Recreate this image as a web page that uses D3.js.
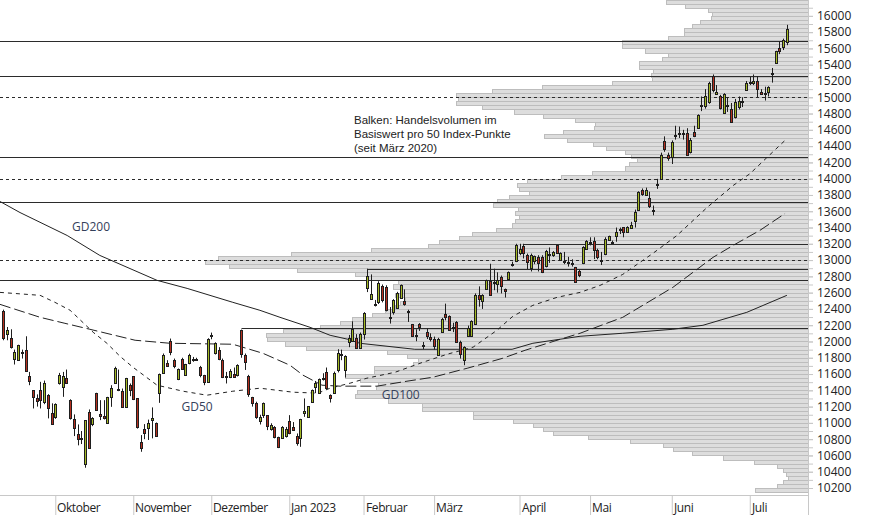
<!DOCTYPE html>
<html><head><meta charset="utf-8">
<script src="https://cdn.jsdelivr.net/npm/d3@7"></script>
<style>
html,body{margin:0;padding:0;background:#fff;}
svg{display:block;}
</style></head><body>
<svg id="chart" width="874" height="515"></svg>
<script>
// ---------- DATA ----------
// daily candles (trading-day index 0 = 13 Sep 2022 ... 211 = 18 Jul 2023)
const opens = [
12370,12097,12043,11790,11770,11870,11892,11573,11402,11300,
11410,11259,11340,11116,11067,11484,11435,11557,11279,11046,
10862,10815,10491,11128,10981,11361,11104,11083,11001,11320,
11496,11420,11394,11197,11463,11573,11300,10768,10925,10940,
11040,11000,11361,11614,11737,12003,11770,11533,11790,11594,
11731,11770,11790,11690,11586,11504,12070,11855,11900,11770,
11560,11565,11600,11586,12146,11831,11573,11320,11246,11026,
11100,11095,10920,10945,10830,10820,10840,11025,10950,10840,
10820,11125,11074,11259,11435,11370,11540,11626,11340,11373,
11647,11830,11647,11994,12012,12048,11925,12097,12661,12527,
12460,12484,12677,12669,12290,12362,12417,12539,12497,12370,
12211,12070,12220,11960,12117,12060,12027,11839,12117,12342,
12309,12170,12240,11994,11770,12070,12070,12220,12566,12500,
12648,12742,12720,12700,12790,12650,12770,12950,12984,13085,
13168,13057,12900,12985,13040,13040,12925,13057,13057,13180,
13005,12985,12980,12968,12914,12864,12969,13140,13220,13235,
13120,13000,13080,13250,13222,13300,13370,13405,13350,13395,
13480,13620,13855,13805,13765,13610,13930,13998,14467,14292,
14262,14530,14555,14555,14562,14324,14578,14623,14900,14897,
14946,15264,15040,15020,14807,14900,14856,14754,14876,14955,
15093,15185,15170,15203,15069,15055,15069,15290,15427,15604,
15612,15681];
const highs = [
12391,12178,12150,11900,11960,11900,12064,11626,11402,11350,
11504,11520,11353,11240,11240,11614,11626,11655,11290,11104,
10981,10900,11034,11165,11070,11370,11279,11279,11320,11463,
11690,11655,11422,11553,11484,11573,11300,10850,10985,11040,
11190,11005,11606,11852,11770,12036,11790,11668,11800,11725,
11850,11810,11800,11700,11590,12040,12109,11990,11930,11790,
11626,11660,11680,11720,12146,11852,11590,11320,11260,11100,
11250,11095,10995,10960,10830,10960,10950,11095,11010,10870,
11050,11300,11205,11410,11515,11545,11610,11680,11350,11630,
11905,11900,11830,12080,12248,12090,12110,12360,12894,12824,
12510,12740,12700,12690,12423,12520,12610,12700,12640,12390,
12215,12150,12225,11994,12160,12100,12060,12045,12290,12465,
12320,12230,12250,12010,11940,12195,12260,12590,12677,12580,
12760,12955,12894,12850,12810,12650,12860,12980,13200,13200,
13200,13080,13080,13055,13060,13060,13125,13155,13110,13185,
13095,13100,13040,13010,12916,12880,13170,13245,13280,13280,
13140,13100,13280,13300,13240,13400,13400,13405,13415,13470,
13620,13845,13880,13890,13840,13670,13998,14320,14520,14320,
14470,14650,14640,14600,14620,14500,14650,14790,15010,15100,
15190,15280,15150,15030,15050,15000,14930,14980,15010,15000,
15200,15250,15280,15260,15100,15130,15135,15360,15571,15690,
15720,15890];
const lows = [
12015,12015,11913,11717,11761,11790,11638,11463,11177,11200,
11177,11230,11055,10981,11050,11470,11320,11480,11040,10838,
10724,10740,10449,10694,10960,11150,11034,11042,10990,11197,
11480,11390,11190,11190,11328,11280,10930,10645,10800,10790,
10810,10830,11246,11606,11688,11831,11671,11525,11660,11585,
11720,11750,11760,11560,11463,11490,12027,11840,11770,11550,
11484,11550,11560,11570,11800,11650,11320,11200,11050,10980,
11060,10911,10905,10810,10690,10810,10820,10860,10900,10720,
10706,11074,11060,11250,11365,11360,11520,11410,11250,11365,
11620,11770,11557,11930,12000,11915,11910,12024,12607,12514,
12430,12460,12480,12370,12220,12330,12400,12530,12440,12240,
12060,12003,12130,11905,12030,12000,11900,11830,12110,12260,
12130,12115,11985,11790,11708,12060,12060,12210,12428,12400,
12640,12570,12630,12600,12590,12540,12760,12920,12975,13060,
13020,12890,12860,12950,12860,12840,12910,12965,13040,13080,
13000,12950,12920,12920,12730,12790,12950,13130,13180,13012,
13010,12940,13060,13240,13200,13225,13320,13280,13345,13390,
13400,13610,13790,13795,13640,13550,13875,13990,14330,14220,
14180,14480,14500,14480,14290,14310,14510,14610,14830,14860,
14920,15060,15030,14850,14800,14820,14690,14740,14850,14880,
15080,15150,15150,15000,15030,14960,15010,15180,15420,15530,
15580,15640];
const closes = [
12043,12137,11933,11871,11954,11859,11638,11512,11320,11270,
11279,11496,11177,10981,11227,11586,11573,11491,11055,10932,
10797,10805,11034,10694,11055,11157,11087,11055,11320,11423,
11675,11402,11190,11553,11402,11291,10946,10694,10870,11000,
11060,10835,11606,11839,11700,11871,11696,11668,11668,11720,
11839,11785,11780,11586,11504,12027,12076,11978,11790,11565,
11570,11638,11565,11710,11852,11749,11353,11246,11074,11074,
11240,10964,10980,10830,10700,10945,10930,10870,10911,10750,
11042,11145,11205,11402,11490,11533,11548,11423,11300,11618,
11860,11845,11819,12048,12150,11925,12097,12355,12800,12579,
12465,12723,12505,12391,12300,12505,12595,12689,12456,12360,
12068,12076,12180,11954,12064,12036,11945,12036,12281,12300,
12137,12180,11994,11843,11933,12170,12250,12575,12526,12575,
12750,12575,12730,12757,12677,12620,12850,12955,13180,13139,
13085,12975,13057,13046,12965,12855,13110,13080,13100,13090,
13090,12980,12972,12960,12730,12812,13160,13235,13222,13120,
13037,12996,13262,13290,13225,13350,13385,13345,13410,13425,
13590,13834,13814,13855,13670,13605,13936,14292,14365,14255,
14446,14537,14562,14560,14296,14480,14529,14782,14905,15011,
15175,15093,15069,14864,15040,14896,14692,14946,14958,14950,
15175,15191,15203,15101,15040,15052,15121,15297,15571,15563,
15706,15837];

// first trading day of each month (index) and its label
const monthStart  = [14, 35, 56, 77, 97, 116, 139, 158, 180, 201];
const monthLabels = ["Oktober","November","Dezember","Jan 2023","Februar","März","April","Mai","Juni","Juli"];

// moving averages: [trading-day index, value]
const gd200 = [[-0.9,13720],[4.5,13584],[17.2,13302],[26,13057],[41.4,12751],[49.5,12652],[61.8,12481],
  [69.1,12383],[74.5,12297],[82.6,12174],[88,12076],[92.8,12027],[96,11978],[110.8,11904],[137,11904],
  [142.6,11978],[155.3,12064],[166.8,12101],[180.3,12150],[188.4,12199],[200.2,12358],[211,12567]];
const gd100 = [[-0.9,12456],[9.9,12297],[16.6,12223],[23.3,12150],[35.5,12015],[44.9,11978],[61.8,11966],
  [69.9,11855],[77.2,11708],[80.7,11586],[85.8,11463],[90.7,11451],[100.6,11451],[108.7,11512],
  [115.7,11561],[124.9,11671],[134.5,11794],[140.5,11892],[149.1,12015],[155.3,12101],[166.8,12297],
  [180.3,12665],[191.1,13033],[196.5,13180],[203.7,13364],[210.5,13572]];
const gd50 = [[-0.9,12603],[9.9,12567],[13.9,12481],[18,12383],[24.2,12113],[27.9,11978],[31.4,11819],
  [34.9,11684],[41.4,11463],[48.4,11389],[54.8,11340],[61.8,11389],[69.1,11426],[78,11377],[84.7,11365],
  [88,11426],[93.4,11488],[97.9,11549],[105.5,11622],[113,11745],[119.5,11843],[126.5,11930],[132.9,12137],
  [137.2,12309],[142.6,12444],[149.1,12542],[155.3,12603],[160.7,12689],[166.8,12824],[174.9,13082],
  [181.4,13302],[189.5,13646],[196.5,13915],[201.1,14063],[205.6,14259],[211,14492]];
const maNames = ["GD200","GD100","GD50"];

// horizontal marker lines: level and first day (null = whole width)
const hLevels = [15695, 15262, 15000, 14270, 14000, 13717, 13200, 13000, 12885, 12750, 12160];
const hFrom   = [null, null, null, null, null, null, 140, null, 98, null, 64];

// volume profile: trading volume per 50 index points, starting at 10150
const profileStart = 10150, profileStep = 50;
const profileVolume = [
 53,31,25,20,22,25,31,54,85,116,
 135,145,178,220,255,265,275,295,335,335,
 386,386,420,453,451,432,430,448,463,434,
 434,395,390,401,421,502,523,541,542,525,
 488,468,456,436,423,413,408,403,413,408,
 415,410,441,453,511,579,603,590,517,437,
 380,369,349,336,312,296,293,289,293,290,
 315,311,299,279,289,291,281,247,216,183,
 179,171,177,183,202,215,241,264,245,214,
 213,233,265,294,326,352,350,352,316,266,
 196,156,157,155,169,169,146,140,163,186,
 186,140,124,124,116,108,97,96,100,123,
 142];

const yTickLabels = d3.range(10200, 16001, 200);
const yMinorTicks = d3.range(10200, 16101, 100);
const noteLines = ["Balken: Handelsvolumen im","Basiswert pro 50 Index-Punkte","(seit März 2020)"];

// ---------- CHART ----------
const plotR = 808, plotB = 495;
const FONT = "'Open Sans', 'Noto Sans', sans-serif";
const svg = d3.select("#chart");
const x = d3.scaleLinear().domain([0, 211]).range([3.3, 786.9]);
const y = d3.scaleLinear().domain([10114, 16195]).range([plotB, 0]);
const xv = d3.scaleLinear().domain([0, 603]).range([plotR, 205]);

svg.append("defs").append("clipPath").attr("id","clip")
  .append("rect").attr("x",0).attr("y",0).attr("width",plotR).attr("height",plotB);
const g = svg.append("g").attr("clip-path","url(#clip)");

// volume profile bars
const levels = profileVolume.map((v,k) => profileStart + k*profileStep);
g.append("g").selectAll("rect").data(levels).join("rect")
  .attr("x", (d,k) => Math.round(xv(profileVolume[k])) + 0.5)
  .attr("y", d => Math.round(y(d + profileStep)) + 0.5)
  .attr("width", (d,k) => plotR - Math.round(xv(profileVolume[k])) )
  .attr("height", d => Math.round(y(d)) - Math.round(y(d + profileStep)))
  .attr("fill", "#dddddd").attr("stroke", "#bdbdbd").attr("stroke-width", 1)
  .attr("shape-rendering", "crispEdges");

// horizontal lines
g.append("g").selectAll("line").data(hLevels).join("line")
  .attr("x1", (d,k) => hFrom[k] === null ? 0 : Math.round(x(hFrom[k])) + 0.5)
  .attr("x2", plotR)
  .attr("y1", d => Math.round(y(d)) + 0.5).attr("y2", d => Math.round(y(d)) + 0.5)
  .attr("stroke", "#2b2b2b").attr("stroke-width", 1.2)
  .attr("stroke-dasharray", d => d % 1000 === 0 ? "3,3" : null);

// moving averages
const line = d3.line().x(d => x(d[0])).y(d => y(d[1]));
const maData = [gd200, gd100, gd50];
const maDash = [null, "11,4", "4,4"];
g.append("g").selectAll("path").data(maData).join("path")
  .attr("d", line).attr("fill", "none")
  .attr("stroke", "#222").attr("stroke-width", 1)
  .attr("stroke-dasharray", (d,k) => maDash[k]);

// candles
const idx = d3.range(opens.length);
const cg = g.append("g");
cg.selectAll("line").data(idx).join("line")
  .attr("x1", i => Math.round(x(i)) + 0.5).attr("x2", i => Math.round(x(i)) + 0.5)
  .attr("y1", i => y(highs[i])).attr("y2", i => y(lows[i]))
  .attr("stroke", "#1e1e1e").attr("stroke-width", 1);
cg.selectAll("rect").data(idx).join("rect")
  .attr("x", i => Math.round(x(i)) - 0.5)
  .attr("y", i => Math.round(y(Math.max(opens[i], closes[i]))) + 0.5)
  .attr("width", 2)
  .attr("height", i => Math.max(1, Math.round(y(Math.min(opens[i], closes[i]))) - Math.round(y(Math.max(opens[i], closes[i])))))
  .attr("fill", i => closes[i] >= opens[i] ? "#a3b823" : "#b52f1f")
  .attr("stroke", "#1e1e1e").attr("stroke-width", 1)
  .attr("shape-rendering", "crispEdges");

// MA labels (anchored at day index / value next to the lines)
const maLabelAt = [[18.5, 13363], [101.9, 11293], [48, 11140]];
svg.append("g").selectAll("text").data(maNames).join("text")
  .attr("x", (d,k) => x(maLabelAt[k][0])).attr("y", (d,k) => y(maLabelAt[k][1]))
  .attr("font-family", FONT).attr("font-size", 12).attr("fill", "#34405a")
  .text(d => d);

// note (three lines)
svg.append("g").selectAll("text").data(noteLines).join("text")
  .attr("x", 354).attr("y", (d,k) => 124 + k*14)
  .attr("font-family", "'Liberation Sans', Arial, sans-serif").attr("font-size", 11.5)
  .attr("fill", "#222").text(d => d);

// axes frame
svg.append("line").attr("x1", plotR + 0.5).attr("x2", plotR + 0.5).attr("y1", 0).attr("y2", 515)
  .attr("stroke", "#c8c8c8");
svg.append("line").attr("x1", 0).attr("x2", plotR).attr("y1", plotB + 0.5).attr("y2", plotB + 0.5)
  .attr("stroke", "#c8c8c8");

// y axis
const yMinor = svg.append("g").attr("transform", `translate(${plotR},0)`)
  .call(d3.axisRight(y).tickValues(yMinorTicks).tickSize(5).tickFormat(""));
yMinor.select(".domain").remove();
yMinor.selectAll("line").attr("stroke", "#c8c8c8");
const yAx = svg.append("g").attr("transform", `translate(${plotR},0)`)
  .call(d3.axisRight(y).tickValues(yTickLabels).tickSize(5).tickPadding(4).tickFormat(d3.format("d")));
yAx.select(".domain").remove();
yAx.selectAll("line").attr("stroke", "#c8c8c8");
yAx.selectAll("text").attr("font-family", FONT).attr("font-size", 12).attr("fill", "#222");

// x axis (month separators + labels)
const xAx = svg.append("g").attr("transform", `translate(0,${plotB})`)
  .call(d3.axisBottom(x).tickValues(monthStart).tickSize(20).tickFormat(""));
xAx.select(".domain").remove();
xAx.selectAll("line").attr("stroke", "#c8c8c8");
svg.append("g").selectAll("text").data(monthLabels).join("text")
  .attr("x", (d,k) => Math.round(x(monthStart[k])) + 2)
  .attr("y", 511.5)
  .attr("font-family", FONT).attr("font-size", 12).attr("letter-spacing", "-0.4px")
  .attr("fill", "#222").text(d => d);
</script>
</body></html>
